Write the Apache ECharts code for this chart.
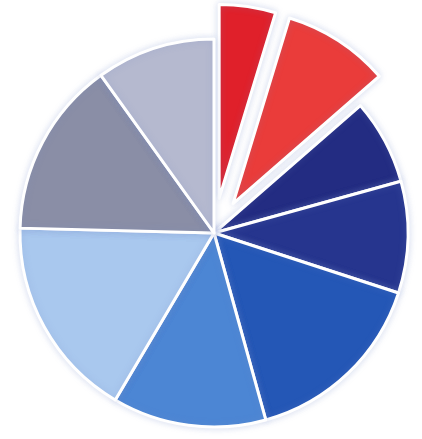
<!DOCTYPE html>
<html>
<head>
<meta charset="utf-8">
<script src="https://cdn.jsdelivr.net/npm/echarts@6/dist/echarts.min.js"></script>
<style>html,body{margin:0;padding:0;background:#fff;}#c{width:422px;height:439px;}</style>
</head>
<body>
<div id="c"></div>
<script>
var categories = ['A', 'B', 'C', 'D', 'E', 'F', 'G', 'H', 'I'];
var values = [4.7, 8.9, 7.1, 9.3, 15.7, 12.8, 16.9, 14.7, 9.9];
var exploded = [true, true, false, false, false, false, false, false, false];
var colors = ['#e0202a', '#ea3c3a', '#232c82', '#26358e', '#2457b6', '#4c86d4', '#a9c8ee', '#8a8ea6', '#b5b9cf'];

var chart = echarts.init(document.getElementById('c'), null, {renderer: 'canvas'});
var data = categories.map(function (c, i) {
  return {name: c, value: values[i], selected: exploded[i], itemStyle: {color: colors[i]}};
});
chart.setOption({
  animation: false,
  series: [{
    type: 'pie',
    center: [214, 233],
    radius: [0, 194],
    startAngle: 90,
    clockwise: true,
    selectedMode: 'multiple',
    selectedOffset: 35,
    label: {show: false},
    labelLine: {show: false},
    emphasis: {disabled: true},
    itemStyle: {
      borderColor: '#ffffff',
      borderWidth: 3,
      shadowBlur: 7,
      shadowColor: 'rgba(120,140,200,0.28)'
    },
    data: data
  }]
});
</script>
</body>
</html>
